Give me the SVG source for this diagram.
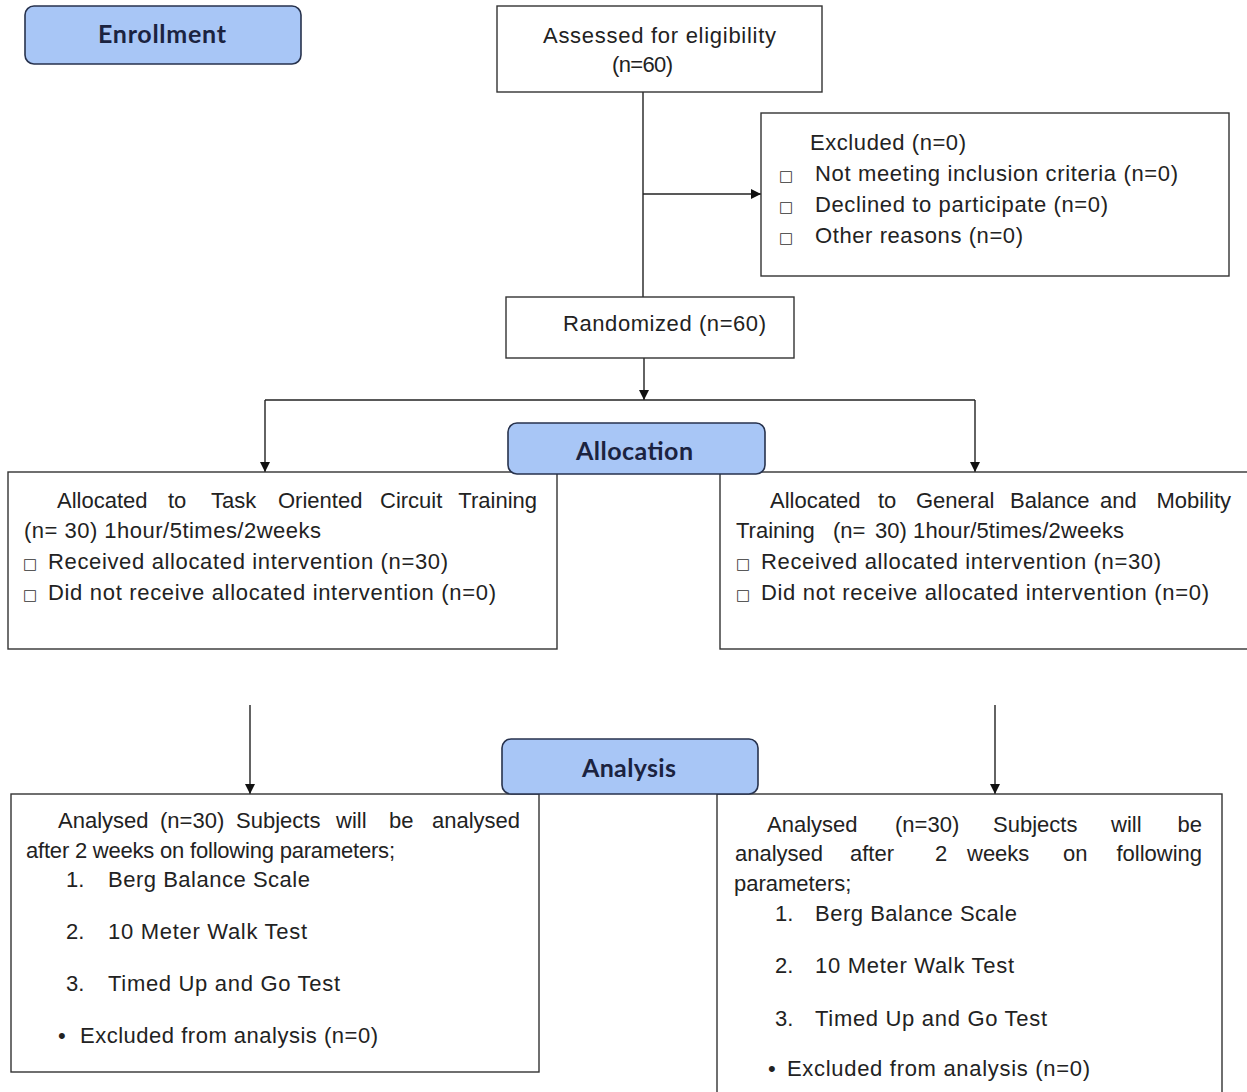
<svg xmlns="http://www.w3.org/2000/svg" width="1247" height="1092" viewBox="0 0 1247 1092">
<style>
.bg{fill:#ffffff}
.box{fill:#ffffff;stroke:#333333;stroke-width:1.4}
.hdr{fill:#a8c6f6;stroke:#27324d;stroke-width:1.6}
.ht{font-family:Lato,"Open Sans",sans-serif;font-weight:bold;font-size:25px;fill:#1b2340}
.t{font-family:"Liberation Sans",Arial,sans-serif;font-size:22px;fill:#222222}
.e{text-anchor:end}
.sq{font-family:"DejaVu Sans",sans-serif;font-size:15px;fill:#333333}
.ln{stroke:#222222;stroke-width:1.4;fill:none}
</style>
<defs>
<marker id="ar" viewBox="0 0 10 10" refX="10" refY="5" markerWidth="10" markerHeight="11" markerUnits="userSpaceOnUse" orient="auto">
<path d="M0,0 L10,5 L0,10 z" fill="#111111"/>
</marker>
</defs>
<rect class="bg" x="0" y="0" width="1247" height="1092"/>

<g id="connectors">
<line class="ln" x1="643" y1="92" x2="643" y2="297"/>
<line class="ln" x1="643" y1="194" x2="761" y2="194" marker-end="url(#ar)"/>
<line class="ln" x1="644" y1="358" x2="644" y2="400" marker-end="url(#ar)"/>
<line class="ln" x1="265" y1="400" x2="975" y2="400"/>
<line class="ln" x1="265" y1="400" x2="265" y2="472" marker-end="url(#ar)"/>
<line class="ln" x1="975" y1="400" x2="975" y2="472" marker-end="url(#ar)"/>
<line class="ln" x1="250" y1="705" x2="250" y2="794" marker-end="url(#ar)"/>
<line class="ln" x1="995" y1="705" x2="995" y2="794" marker-end="url(#ar)"/>
</g>

<g id="enrollment">
<rect class="hdr" x="25" y="6" width="276" height="58" rx="9"/>
<text class="ht" x="98" y="43" textLength="128">Enrollment</text>
</g>

<g id="assessed">
<rect class="box" x="497" y="6" width="325" height="86"/>
<text class="t" x="543" y="43" textLength="233">Assessed for eligibility</text>
<text class="t" x="612" y="72" textLength="61">(n=60)</text>
</g>

<g id="excluded">
<rect class="box" x="761" y="113" width="468" height="163"/>
<text class="t" x="810" y="150" textLength="156">Excluded (n=0)</text>
<text class="sq" x="779" y="181">□</text>
<text class="t" x="815" y="181" textLength="363">Not meeting inclusion criteria (n=0)</text>
<text class="sq" x="779" y="212">□</text>
<text class="t" x="815" y="212" textLength="293">Declined to participate (n=0)</text>
<text class="sq" x="779" y="243">□</text>
<text class="t" x="815" y="243" textLength="208">Other reasons (n=0)</text>
</g>

<g id="randomized">
<rect class="box" x="506" y="297" width="288" height="61"/>
<text class="t" x="563" y="331" textLength="203">Randomized  (n=60)</text>
</g>

<g id="alloc-left">
<rect class="box" x="8" y="472" width="549" height="177"/>
<text class="t" y="508"><tspan x="57">Allocated</tspan><tspan x="168">to</tspan><tspan x="211">Task</tspan><tspan x="278">Oriented</tspan><tspan x="380">Circuit</tspan></text>
<text class="t e" x="537" y="508">Training</text>
<text class="t" x="24" y="538" textLength="297">(n= 30) 1hour/5times/2weeks</text>
<text class="sq" x="23" y="569">□</text>
<text class="t" x="48" y="569" textLength="400">Received  allocated  intervention  (n=30)</text>
<text class="sq" x="23" y="600">□</text>
<text class="t" x="48" y="600" textLength="448">Did not receive  allocated  intervention  (n=0)</text>
</g>

<g id="alloc-right">
<rect class="box" x="720" y="472" width="530" height="177"/>
<text class="t" y="508"><tspan x="770">Allocated</tspan><tspan x="878">to</tspan><tspan x="916">General</tspan><tspan x="1010">Balance</tspan><tspan x="1100">and</tspan></text>
<text class="t e" x="1231" y="508">Mobility</text>
<text class="t" y="538"><tspan x="736">Training</tspan><tspan x="833">(n=</tspan><tspan x="875">30)</tspan></text>
<text class="t" x="913" y="538" textLength="211">1hour/5times/2weeks</text>
<text class="sq" x="736" y="569">□</text>
<text class="t" x="761" y="569" textLength="400">Received  allocated  intervention  (n=30)</text>
<text class="sq" x="736" y="600">□</text>
<text class="t" x="761" y="600" textLength="448">Did not receive  allocated  intervention  (n=0)</text>
</g>

<g id="allocation">
<rect class="hdr" x="508" y="423" width="257" height="51" rx="9"/>
<text class="ht" x="576" y="460" textLength="117">Allocation</text>
</g>

<g id="analysed-left">
<rect class="box" x="11" y="794" width="528" height="278"/>
<text class="t" y="828"><tspan x="58">Analysed</tspan><tspan x="160">(n=30)</tspan><tspan x="236">Subjects</tspan><tspan x="336">will</tspan><tspan x="389">be</tspan></text>
<text class="t e" x="520" y="828">analysed</text>
<text class="t" x="26" y="858" textLength="369">after 2 weeks on following parameters;</text>
<text class="t" x="66" y="887">1.</text>
<text class="t" x="108" y="887" textLength="202">Berg Balance Scale</text>
<text class="t" x="66" y="939">2.</text>
<text class="t" x="108" y="939" textLength="199">10 Meter Walk Test</text>
<text class="t" x="66" y="991">3.</text>
<text class="t" x="108" y="991" textLength="232">Timed Up and Go Test</text>
<text class="t" x="58" y="1043">•</text>
<text class="t" x="80" y="1043" textLength="298">Excluded from analysis (n=0)</text>
</g>

<g id="analysed-right">
<rect class="box" x="717" y="794" width="505" height="310"/>
<text class="t" y="832"><tspan x="767">Analysed</tspan><tspan x="895">(n=30)</tspan><tspan x="993">Subjects</tspan><tspan x="1111">will</tspan></text>
<text class="t e" x="1202" y="832">be</text>
<text class="t" y="861"><tspan x="735">analysed</tspan><tspan x="850">after</tspan><tspan x="935">2</tspan><tspan x="967">weeks</tspan><tspan x="1063">on</tspan></text>
<text class="t e" x="1202" y="861">following</text>
<text class="t" x="734" y="891">parameters;</text>
<text class="t" x="775" y="921">1.</text>
<text class="t" x="815" y="921" textLength="202">Berg Balance Scale</text>
<text class="t" x="775" y="973">2.</text>
<text class="t" x="815" y="973" textLength="199">10 Meter Walk Test</text>
<text class="t" x="775" y="1026">3.</text>
<text class="t" x="815" y="1026" textLength="232">Timed Up and Go Test</text>
<text class="t" x="768" y="1076">•</text>
<text class="t" x="787" y="1076" textLength="303">Excluded from analysis  (n=0)</text>
</g>

<g id="analysis">
<rect class="hdr" x="502" y="739" width="256" height="55" rx="9"/>
<text class="ht" x="582" y="777" textLength="94">Analysis</text>
</g>
</svg>
